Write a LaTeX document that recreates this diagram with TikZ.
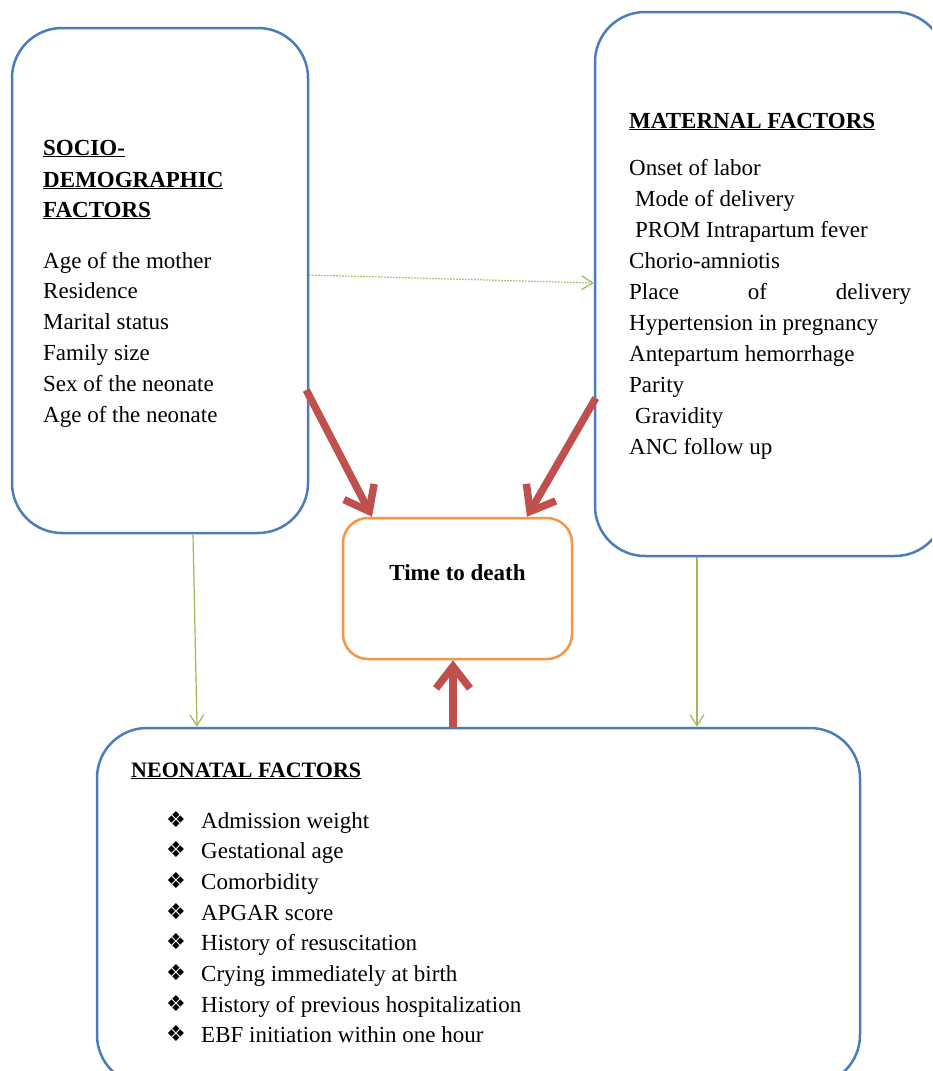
\documentclass[tikz,border=0pt]{standalone}
\usepackage{fontspec}
\setmainfont{Liberation Serif}
\newfontfamily\symfont{DejaVu Sans}
\usetikzlibrary{arrows.meta,calc}
\definecolor{boxblue}{HTML}{4A7EBB}
\definecolor{boxorange}{HTML}{F79646}
\definecolor{arrred}{HTML}{C0504D}
\definecolor{arrgreen}{HTML}{9BBB59}
\begin{document}
\begin{tikzpicture}[x=1pt,y=-1pt,
  panel/.style={draw=boxblue, line width=2.5pt, rounded corners=50pt, inner sep=0pt, fill=white},
  centerbox/.style={draw=boxorange, line width=2.5pt, rounded corners=25pt, inner sep=0pt, fill=white},
  txt/.style={anchor=base west, inner sep=0pt, font=\fontsize{23}{31}\selectfont},
  hd/.style={anchor=base west, inner sep=0pt, font=\fontsize{23}{31}\selectfont\bfseries},
  bul/.style={anchor=base west, inner sep=0pt, font=\fontsize{22}{26}\symfont},
  redarrow/.style={draw=arrred, line width=7.5pt, -{Straight Barb[length=22pt,width=34pt]}},
  greenarrow/.style={draw=arrgreen, line width=1.2pt, -{Straight Barb[length=11pt,width=14pt]}},
  greendotted/.style={greenarrow, dash pattern=on 1.5pt off 1.5pt}]
\useasboundingbox (0,0) rectangle (932,1071);
\clip (0,0) rectangle (932,1071);
\fill[white] (0,0) rectangle (932,1071);
% boxes
\node[panel, minimum width=296pt, minimum height=505pt] (L) at (160,280.5) {};
\node[panel, minimum width=350pt, minimum height=544pt] (R) at (770,284) {};
\node[centerbox, minimum width=229pt, minimum height=141pt] (T) at (457.5,588.5) {};
\node[panel, minimum width=763pt, minimum height=357pt] (B) at (478.5,906.5) {};
% left text
\node[hd] (lh1) at (43,155) {\underline{SOCIO-}};
\node[hd] (lh2) at (43,187) {\underline{DEMOGRAPHIC}};
\node[hd] (lh3) at (43,217) {\underline{FACTORS}};
\foreach \t [count=\i] in {Age of the mother, Residence, Marital status, Family size, Sex of the neonate, Age of the neonate}
  \node[txt] (li\i) at (43,{268+30.8*(\i-1)}) {\t};
% right text
\node[hd] (rh) at (629,128) {\underline{MATERNAL FACTORS}};
\foreach \x/\t [count=\i] in {629/Onset of labor, 635/Mode of delivery, 635/PROM Intrapartum fever, 629/Chorio-amniotis, 629/{\makebox[282pt][s]{Place of delivery}}, 629/Hypertension in pregnancy, 629/Antepartum hemorrhage, 629/Parity, 635/Gravidity, 629/ANC follow up}
  \node[txt] (ri\i) at (\x,{175+31*(\i-1)}) {\t};
% center text
\node[anchor=base, inner sep=0pt, font=\fontsize{23}{31}\selectfont\bfseries] (tt) at (457.5,580) {Time to death};
% bottom text
\node[anchor=base west, inner sep=0pt, font=\fontsize{22}{30}\selectfont\bfseries] (bh) at (131,777) {\underline{NEONATAL FACTORS}};
\foreach \t [count=\i] in {Admission weight, Gestational age, Comorbidity, APGAR score, History of resuscitation, Crying immediately at birth, History of previous hospitalization, EBF initiation within one hour}{
  \node[bul] (bb\i) at (166,{827+30.7*(\i-1)}) {❖};
  \node[txt] (bi\i) at (201,{828+30.7*(\i-1)}) {\t};
}
% connectors
\draw[greendotted] ([yshift=5.5pt]L.east) -- ([yshift=1pt]R.west);
\draw[greenarrow] ([xshift=33pt]L.south) -- ([xshift=-281.5pt]B.north);
\draw[greenarrow] ([xshift=-73pt]R.south) -- ([xshift=218.5pt]B.north);
\draw[redarrow] ([yshift=-109.5pt,xshift=-3pt]L.east) -- ([xshift=-85.5pt]T.north);
\draw[redarrow] ([yshift=-114pt,xshift=2pt]R.west) -- ([xshift=69.5pt]T.north);
\draw[redarrow] ([xshift=-25.5pt]B.north) -- ([xshift=-4.5pt]T.south);
\end{tikzpicture}
\end{document}
